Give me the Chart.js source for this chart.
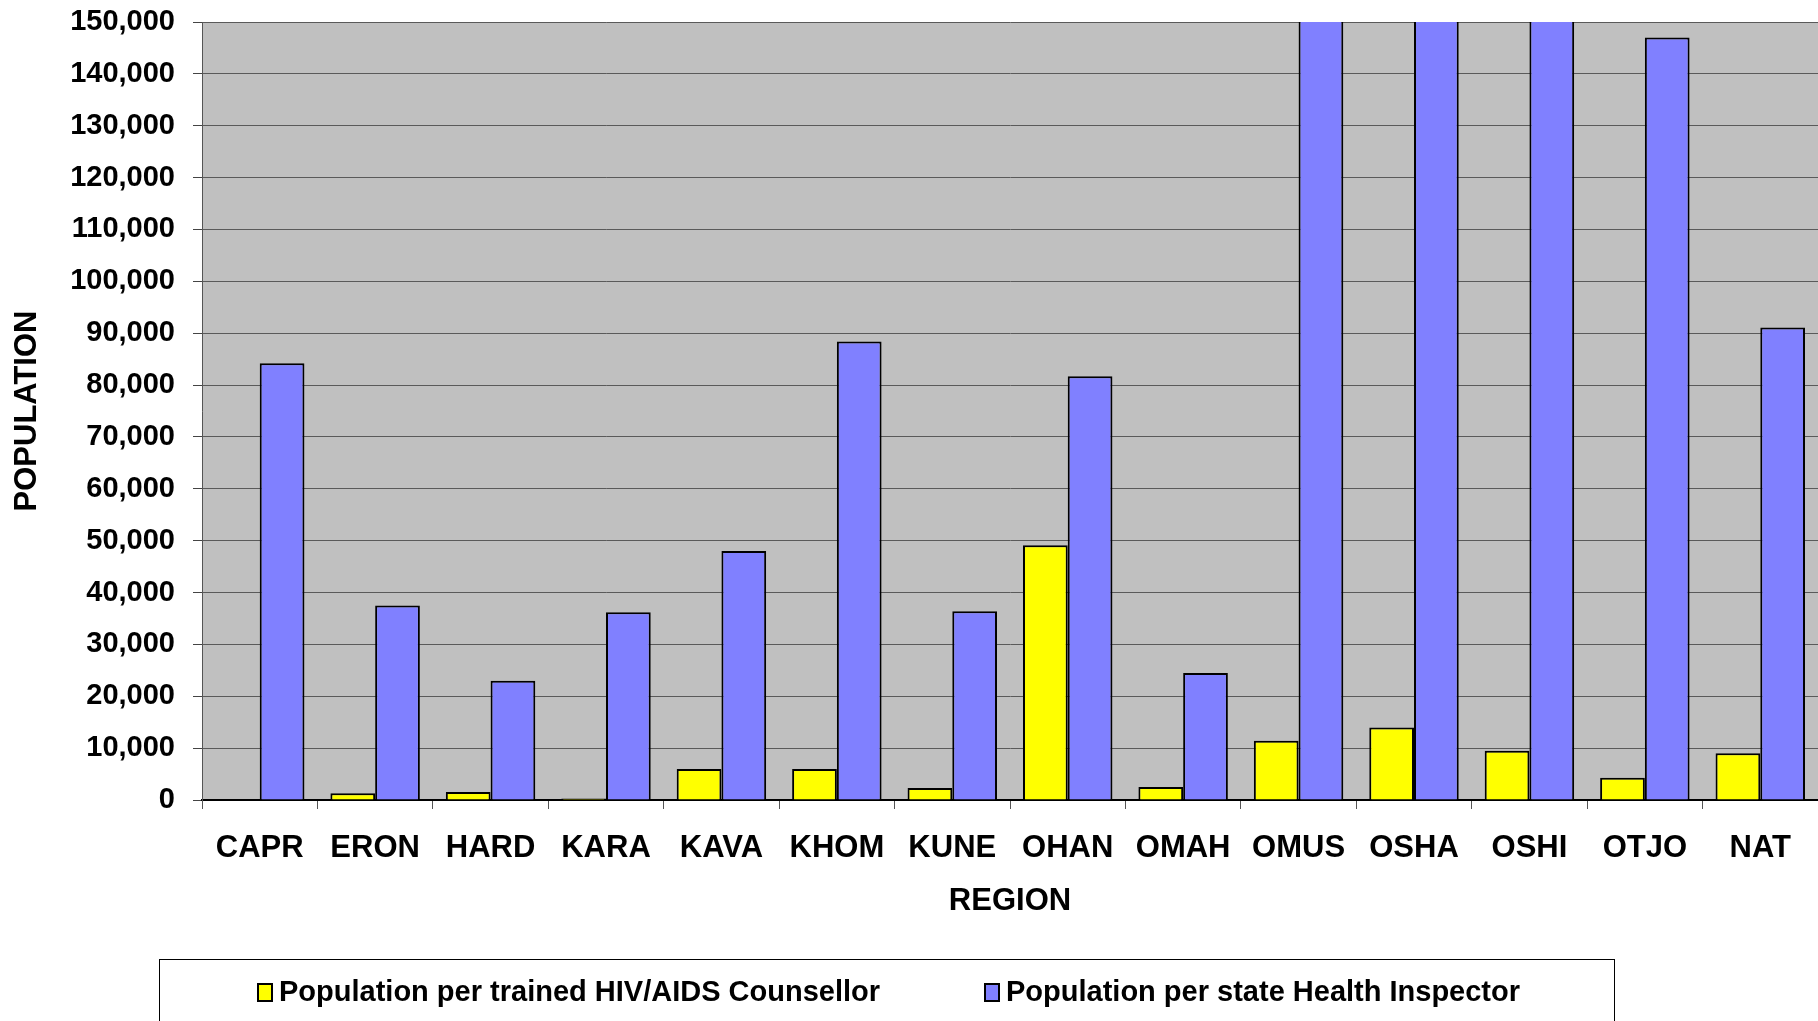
<!DOCTYPE html>
<html>
<head>
<meta charset="utf-8">
<script src="https://cdn.jsdelivr.net/npm/chart.js@4/dist/chart.umd.min.js"></script>
<style>
html,body{margin:0;padding:0;background:#fff;}
#wrap{width:1818px;height:1021px;position:relative;}
</style>
</head>
<body>
<div id="wrap"><canvas id="c" width="1818" height="1021"></canvas></div>
<script>
const regions = ['CAPR','ERON','HARD','KARA','KAVA','KHOM','KUNE','OHAN','OMAH','OMUS','OSHA','OSHI','OTJO','NAT'];
const counsellorLabel = 'Population per trained HIV/AIDS Counsellor';
const inspectorLabel = 'Population per state Health Inspector';
const perCounsellor = [0, 1300, 1550, 300, 6000, 6000, 2300, 49100, 2500, 11400, 14000, 9500, 4300, 9000];
const perInspector = [84200, 37500, 23000, 36200, 48000, 88400, 36400, 81700, 24500, 165000, 170000, 160000, 147000, 91100];
const yTicksMax = 150000;
const yTicksStep = 10000;

const FONT = '"Liberation Sans", Arial, sans-serif';

const bgPlugin = {
  id: 'plotBg',
  beforeDraw(chart) {
    const {ctx, chartArea: a} = chart;
    ctx.save();
    ctx.fillStyle = '#C0C0C0';
    ctx.fillRect(a.left, a.top, a.right - a.left, a.bottom - a.top);
    ctx.restore();
  }
};

const legendPlugin = {
  id: 'boxLegend',
  afterDraw(chart) {
    const ctx = chart.ctx;
    ctx.save();
    ctx.strokeStyle = '#000';
    ctx.lineWidth = 1;
    ctx.strokeRect(159.5, 959.5, 1455, 80);
    ctx.font = 'bold 29px ' + FONT;
    ctx.textBaseline = 'middle';
    ctx.textAlign = 'left';
    const items = [{x: 258}, {x: 985}];
    chart.data.datasets.forEach((ds, i) => {
      const x = items[i].x, y = 992;
      ctx.fillStyle = ds.backgroundColor;
      ctx.fillRect(x, y - 8, 14, 17);
      ctx.strokeStyle = '#000';
      ctx.lineWidth = 2;
      ctx.strokeRect(x, y - 8, 14, 17);
      ctx.fillStyle = '#000';
      ctx.fillText(ds.label, x + 21, y + 1);
    });
    ctx.restore();
  }
};

new Chart(document.getElementById('c'), {
  type: 'bar',
  data: {
    labels: regions,
    datasets: [
      {label: counsellorLabel, data: perCounsellor, backgroundColor: '#FFFF00', borderColor: '#000', borderWidth: 2, clip: 0},
      {label: inspectorLabel, data: perInspector, backgroundColor: '#8080FF', borderColor: '#000', borderWidth: 2, clip: 0}
    ]
  },
  options: {
    responsive: false,
    animation: false,
    devicePixelRatio: 1,
    layout: {padding: {left: 0, right: 0, top: 22, bottom: 97}},
    datasets: {bar: {categoryPercentage: 0.775, barPercentage: 1.0}},
    plugins: {legend: {display: false}, tooltip: {enabled: false}},
    scales: {
      x: {
        afterFit(scale) { scale.height = 124; scale.paddingLeft = 0; scale.paddingRight = 0; },
        grid: {display: true, drawOnChartArea: false, offset: true, tickLength: 9, color: '#555', lineWidth: 1},
        border: {display: true, color: '#000', width: 2},
        ticks: {color: '#000', padding: 21, font: {family: FONT, size: 31, weight: 'bold'}, maxRotation: 0, autoSkip: false},
        title: {display: true, text: 'REGION', color: '#000', font: {family: FONT, size: 31, weight: 'bold', lineHeight: 1.2}, padding: {top: 0, bottom: 4}}
      },
      y: {
        min: 0,
        max: yTicksMax,
        afterFit(scale) { scale.width = 202; scale.paddingTop = 0; scale.paddingBottom = 0; },
        grid: {color: '#5a5a5a', lineWidth: 1, tickLength: 9, tickColor: '#444'},
        border: {display: true, color: '#555', width: 1},
        ticks: {stepSize: yTicksStep, color: '#000', padding: 18, font: {family: FONT, size: 29, weight: 'bold'},
          callback: v => v.toLocaleString('en-US')},
        title: {display: true, text: 'POPULATION', color: '#000', font: {family: FONT, size: 31, weight: 'bold', lineHeight: 1.2}, padding: {top: 9, bottom: 4}}
      }
    }
  },
  plugins: [bgPlugin, legendPlugin]
});
</script>
</body>
</html>
